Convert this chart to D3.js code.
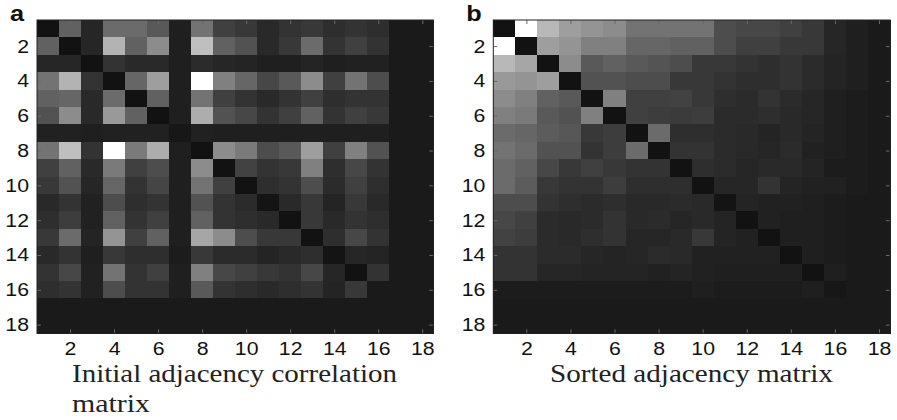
<!DOCTYPE html>
<html>
<head>
<meta charset="utf-8">
<script src="https://cdn.jsdelivr.net/npm/d3@7"></script>
<style>
  html, body { margin: 0; padding: 0; background: #fff; }
  svg { display: block; }
</style>
</head>
<body>
<svg id="chart" width="897" height="420"></svg>
<script>
// Node indices along both axes
const nodes = d3.range(1, 19);
const tickValues = [2, 4, 6, 8, 10, 12, 14, 16, 18];

// Panel a: initial adjacency correlation matrix (row-major, 18 x 18)
const initialMatrix = [
  [0.07,0.38,0.15,0.42,0.42,0.35,0.12,0.45,0.25,0.22,0.16,0.20,0.22,0.18,0.20,0.18,0.10,0.10],
  [0.38,0.07,0.15,0.70,0.38,0.55,0.12,0.75,0.38,0.32,0.16,0.22,0.42,0.20,0.25,0.20,0.10,0.10],
  [0.15,0.15,0.07,0.20,0.16,0.16,0.12,0.17,0.15,0.14,0.12,0.12,0.14,0.12,0.13,0.13,0.10,0.10],
  [0.45,0.70,0.20,0.07,0.40,0.62,0.12,1.00,0.50,0.40,0.28,0.35,0.55,0.25,0.45,0.30,0.10,0.10],
  [0.38,0.40,0.16,0.42,0.07,0.38,0.12,0.45,0.25,0.20,0.16,0.20,0.25,0.18,0.20,0.20,0.10,0.10],
  [0.32,0.55,0.16,0.60,0.38,0.07,0.12,0.68,0.32,0.28,0.20,0.25,0.38,0.20,0.25,0.22,0.10,0.10],
  [0.13,0.13,0.12,0.13,0.13,0.13,0.09,0.13,0.12,0.12,0.12,0.12,0.12,0.12,0.12,0.12,0.10,0.10],
  [0.45,0.75,0.20,1.00,0.48,0.68,0.12,0.07,0.55,0.48,0.30,0.35,0.62,0.25,0.50,0.32,0.10,0.10],
  [0.25,0.38,0.16,0.48,0.25,0.30,0.12,0.55,0.07,0.26,0.20,0.22,0.50,0.18,0.28,0.20,0.10,0.10],
  [0.22,0.32,0.15,0.40,0.20,0.27,0.12,0.45,0.25,0.07,0.18,0.20,0.30,0.17,0.25,0.18,0.10,0.10],
  [0.16,0.20,0.13,0.30,0.18,0.20,0.12,0.32,0.20,0.17,0.08,0.16,0.22,0.14,0.22,0.16,0.10,0.10],
  [0.18,0.24,0.13,0.38,0.20,0.25,0.12,0.38,0.20,0.18,0.16,0.07,0.22,0.16,0.20,0.18,0.10,0.10],
  [0.22,0.42,0.14,0.58,0.25,0.38,0.12,0.65,0.55,0.30,0.22,0.22,0.07,0.18,0.28,0.20,0.10,0.10],
  [0.16,0.20,0.12,0.22,0.18,0.18,0.11,0.22,0.17,0.17,0.14,0.16,0.18,0.08,0.15,0.14,0.10,0.10],
  [0.20,0.28,0.13,0.45,0.20,0.25,0.12,0.50,0.28,0.25,0.22,0.20,0.28,0.15,0.07,0.20,0.10,0.10],
  [0.18,0.20,0.13,0.30,0.20,0.20,0.12,0.35,0.20,0.18,0.16,0.18,0.20,0.14,0.22,0.10,0.10,0.10],
  [0.10,0.10,0.10,0.10,0.10,0.10,0.10,0.10,0.10,0.10,0.10,0.10,0.10,0.10,0.10,0.10,0.10,0.10],
  [0.10,0.10,0.10,0.10,0.10,0.10,0.10,0.10,0.10,0.10,0.10,0.10,0.10,0.10,0.10,0.10,0.10,0.10]
];

// Panel b: the same matrix after sorting the nodes
const sortedMatrix = [
  [0.07,1.00,0.72,0.62,0.58,0.55,0.45,0.45,0.45,0.45,0.30,0.28,0.28,0.25,0.22,0.15,0.12,0.10],
  [1.00,0.07,0.62,0.58,0.50,0.50,0.40,0.40,0.38,0.38,0.30,0.25,0.25,0.22,0.22,0.15,0.12,0.10],
  [0.72,0.65,0.07,0.55,0.35,0.38,0.35,0.33,0.30,0.22,0.22,0.20,0.18,0.20,0.17,0.14,0.12,0.10],
  [0.60,0.58,0.62,0.07,0.32,0.32,0.30,0.30,0.22,0.22,0.20,0.18,0.18,0.20,0.17,0.14,0.12,0.10],
  [0.55,0.50,0.38,0.35,0.07,0.50,0.25,0.25,0.26,0.22,0.18,0.17,0.20,0.17,0.15,0.12,0.11,0.10],
  [0.50,0.48,0.35,0.32,0.50,0.07,0.25,0.24,0.23,0.24,0.17,0.17,0.18,0.16,0.15,0.12,0.11,0.10],
  [0.42,0.40,0.36,0.34,0.22,0.24,0.07,0.42,0.18,0.18,0.17,0.16,0.14,0.16,0.14,0.12,0.11,0.10],
  [0.45,0.42,0.32,0.32,0.20,0.24,0.42,0.07,0.20,0.20,0.17,0.16,0.15,0.17,0.13,0.12,0.11,0.10],
  [0.42,0.38,0.28,0.22,0.25,0.22,0.20,0.20,0.07,0.18,0.17,0.15,0.16,0.16,0.14,0.11,0.11,0.10],
  [0.42,0.36,0.22,0.20,0.20,0.24,0.18,0.18,0.18,0.07,0.15,0.15,0.20,0.14,0.13,0.13,0.11,0.10],
  [0.30,0.30,0.20,0.18,0.17,0.18,0.16,0.16,0.17,0.16,0.08,0.14,0.13,0.13,0.12,0.11,0.10,0.10],
  [0.28,0.25,0.17,0.16,0.17,0.20,0.16,0.17,0.15,0.16,0.14,0.07,0.13,0.12,0.12,0.11,0.10,0.10],
  [0.26,0.24,0.17,0.16,0.18,0.20,0.15,0.15,0.16,0.22,0.14,0.13,0.07,0.12,0.12,0.11,0.10,0.10],
  [0.20,0.20,0.17,0.17,0.15,0.14,0.15,0.17,0.16,0.13,0.13,0.13,0.13,0.07,0.12,0.11,0.10,0.10],
  [0.20,0.20,0.15,0.15,0.14,0.14,0.14,0.13,0.14,0.13,0.12,0.12,0.12,0.12,0.07,0.12,0.10,0.10],
  [0.11,0.11,0.11,0.11,0.11,0.11,0.11,0.11,0.11,0.12,0.11,0.11,0.11,0.11,0.12,0.09,0.10,0.10],
  [0.10,0.10,0.10,0.10,0.10,0.10,0.10,0.10,0.10,0.10,0.10,0.10,0.10,0.10,0.10,0.10,0.10,0.10],
  [0.10,0.10,0.10,0.10,0.10,0.10,0.10,0.10,0.10,0.10,0.10,0.10,0.10,0.10,0.10,0.10,0.10,0.10]
];

const panelLetters = ["a", "b"];
const captions = [["Initial adjacency correlation", "matrix"], ["Sorted adjacency matrix"]];

// Linear gray colormap: 0 -> black, 1 -> white
const gray = d3.scaleLinear().domain([0, 1]).range(["#000000", "#ffffff"]);

const svg = d3.select("#chart");
const sansFont = "'Liberation Sans', Arial, sans-serif";
const serifFont = "'Liberation Serif', 'Times New Roman', serif";
const stretch = 1.15;

const panels = [
  { left: 37, right: 433.3, matrix: initialMatrix, letter: panelLetters[0], caption: captions[0],
    capX: 72, capLens: [325, 78] },
  { left: 493.3, right: 890, matrix: sortedMatrix, letter: panelLetters[1], caption: captions[1],
    capX: 550, capLens: [283] }
];
const plotTop = 20, plotBottom = 333.3;

panels.forEach(p => {
  const x = d3.scaleLinear().domain([0.5, 18.5]).range([p.left, p.right]);
  const y = d3.scaleLinear().domain([0.5, 18.5]).range([plotTop, plotBottom]);
  const g = svg.append("g");

  const cells = [];
  p.matrix.forEach((row, i) => row.forEach((v, j) => cells.push({ r: nodes[i], c: nodes[j], v })));

  g.selectAll("rect.cell").data(cells).join("rect")
    .attr("class", "cell")
    .attr("x", d => x(d.c - 0.5))
    .attr("y", d => y(d.r - 0.5))
    .attr("width", d => x(d.c + 0.5) - x(d.c - 0.5) + 0.5)
    .attr("height", d => y(d.r + 0.5) - y(d.r - 0.5) + 0.5)
    .attr("shape-rendering", "crispEdges")
    .attr("fill", d => gray(d.v));

  // Bottom axis with labels, inward ticks
  const xAxis = g.append("g").attr("transform", `translate(0,${plotBottom})`)
    .call(d3.axisBottom(x).tickValues(tickValues).tickSizeInner(-4).tickSizeOuter(0).tickPadding(9));
  // Left axis with labels, inward ticks
  const yAxis = g.append("g").attr("transform", `translate(${p.left},0)`)
    .call(d3.axisLeft(y).tickValues(tickValues).tickSizeInner(-4).tickSizeOuter(0).tickPadding(7));
  // Top and right inward ticks, no labels
  const xTop = g.append("g").attr("transform", `translate(0,${plotTop})`)
    .call(d3.axisTop(x).tickValues(tickValues).tickSizeInner(-4).tickSizeOuter(0).tickFormat(""));
  const yRight = g.append("g").attr("transform", `translate(${p.right},0)`)
    .call(d3.axisRight(y).tickValues(tickValues).tickSizeInner(-4).tickSizeOuter(0).tickFormat(""));

  [xAxis, yAxis, xTop, yRight].forEach(a => {
    a.select(".domain").remove();
    a.selectAll(".tick line").attr("stroke", "#6a6a6a");
  });
  xAxis.selectAll("text")
    .attr("font-family", sansFont).attr("font-size", 18.5).attr("fill", "#111")
    .attr("transform", `scale(${stretch},1)`);
  yAxis.selectAll("text")
    .attr("font-family", sansFont).attr("font-size", 18.5).attr("fill", "#111")
    .attr("x", -8 / stretch)
    .attr("transform", `scale(${stretch},1)`);

  // Axes box
  g.append("rect")
    .attr("x", p.left).attr("y", plotTop)
    .attr("width", p.right - p.left).attr("height", plotBottom - plotTop)
    .attr("fill", "none").attr("stroke", "#222").attr("stroke-width", 1);

  // Panel letter
  svg.append("text")
    .attr("transform", `translate(${p.left - 27},${plotTop + 1}) scale(${stretch},1)`)
    .attr("font-family", sansFont).attr("font-weight", "bold").attr("font-size", 22)
    .attr("fill", "#111")
    .text(p.letter);

  // Caption below the axis
  p.caption.forEach((line, k) => {
    svg.append("text")
      .attr("x", p.capX).attr("y", 382 + k * 30)
      .attr("font-family", serifFont).attr("font-size", 26).attr("fill", "#222")
      .attr("textLength", p.capLens[k]).attr("lengthAdjust", "spacingAndGlyphs")
      .text(line);
  });
});
</script>
</body>
</html>
